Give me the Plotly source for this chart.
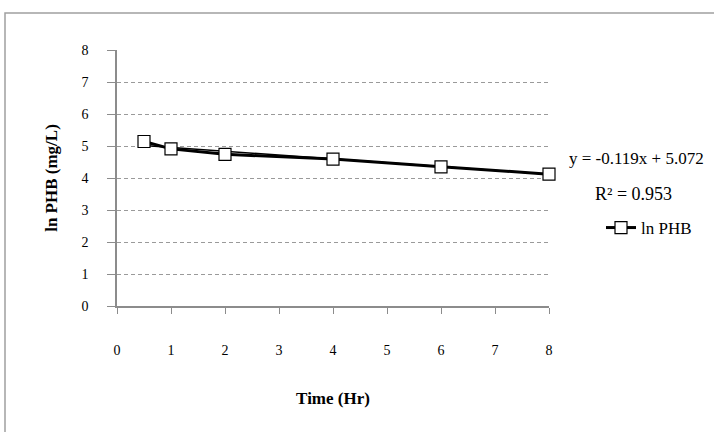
import plotly.graph_objects as go

time_hr = [0.5, 1, 2, 4, 6, 8]
ln_phb = [5.14, 4.91, 4.74, 4.59, 4.35, 4.12]
trend_slope = -0.119
trend_intercept = 5.072
r_squared = 0.953
x_ticks = [0, 1, 2, 3, 4, 5, 6, 7, 8]
y_ticks = [0, 1, 2, 3, 4, 5, 6, 7, 8]

trend_x = [min(time_hr), max(time_hr)]
trend_y = [trend_slope * v + trend_intercept for v in trend_x]

FONT = "Liberation Serif"
W, H = 714, 432
ML, MR, MT, MB = 117, 165, 50, 126
PW, PH = W - ML - MR, H - MT - MB

fig = go.Figure()
fig.add_trace(go.Scatter(x=trend_x, y=trend_y, mode="lines",
                         line=dict(color="black", width=1.5),
                         showlegend=False, hoverinfo="skip", cliponaxis=False))
fig.add_trace(go.Scatter(x=time_hr, y=ln_phb, mode="lines+markers", name="ln PHB",
                         line=dict(color="black", width=3), cliponaxis=False,
                         marker=dict(symbol="square", size=12, color="white",
                                     line=dict(color="black", width=1.2))))

fig.add_annotation(xref="paper", yref="paper", x=(636 - ML) / PW, y=(H - MB - 158) / PH,
                   xanchor="center", yanchor="middle",
                   text=f"y = {trend_slope}x + {trend_intercept}", showarrow=False,
                   font=dict(family=FONT, size=17, color="black"))
fig.add_annotation(xref="paper", yref="paper", x=(633 - ML) / PW, y=(H - MB - 194) / PH,
                   xanchor="center", yanchor="middle",
                   text=f"R² = {r_squared}", showarrow=False,
                   font=dict(family=FONT, size=18, color="black"))

# outer chart frame
fig.add_shape(type="rect", xref="paper", yref="paper",
              x0=(5 - ML) / PW, x1=(730 - ML) / PW,
              y0=(H - MB - 445) / PH, y1=(H - MB - 13) / PH,
              line=dict(color="#a0a0a0", width=1.5), fillcolor="rgba(0,0,0,0)", layer="below")

fig.update_layout(
    width=W, height=H,
    margin=dict(l=ML, r=MR, t=MT, b=MB, autoexpand=False),
    paper_bgcolor="white", plot_bgcolor="white",
    font=dict(family=FONT, size=14, color="black"),
    legend=dict(x=(601 - ML) / PW, y=(H - MB - 228) / PH, xanchor="left", yanchor="middle",
                font=dict(family=FONT, size=17), bgcolor="rgba(0,0,0,0)",
                itemwidth=30),
    xaxis=dict(range=[0, 8], tickvals=x_ticks, showgrid=False, zeroline=False,
               showline=True, linecolor="#8c8c8c", linewidth=1.5,
               ticks="outside", ticklen=6, tickcolor="#8c8c8c",
               ticklabelstandoff=24, tickfont=dict(family=FONT, size=14),
               title=dict(text="<b>Time (Hr)</b>", standoff=36,
                          font=dict(family=FONT, size=17)),
               automargin=False),
    yaxis=dict(range=[0, 8], tickvals=y_ticks, showgrid=True, gridcolor="#9a9a9a",
               griddash="4px,3px", gridwidth=1, zeroline=False,
               showline=True, linecolor="#8c8c8c", linewidth=1.5,
               ticks="outside", ticklen=8, tickcolor="#8c8c8c",
               ticklabelstandoff=16, tickfont=dict(family=FONT, size=14),
               title=dict(text="<b>ln PHB (mg/L)</b>", standoff=20,
                          font=dict(family=FONT, size=17)),
               automargin=False),
)

fig.write_html("out.html")
